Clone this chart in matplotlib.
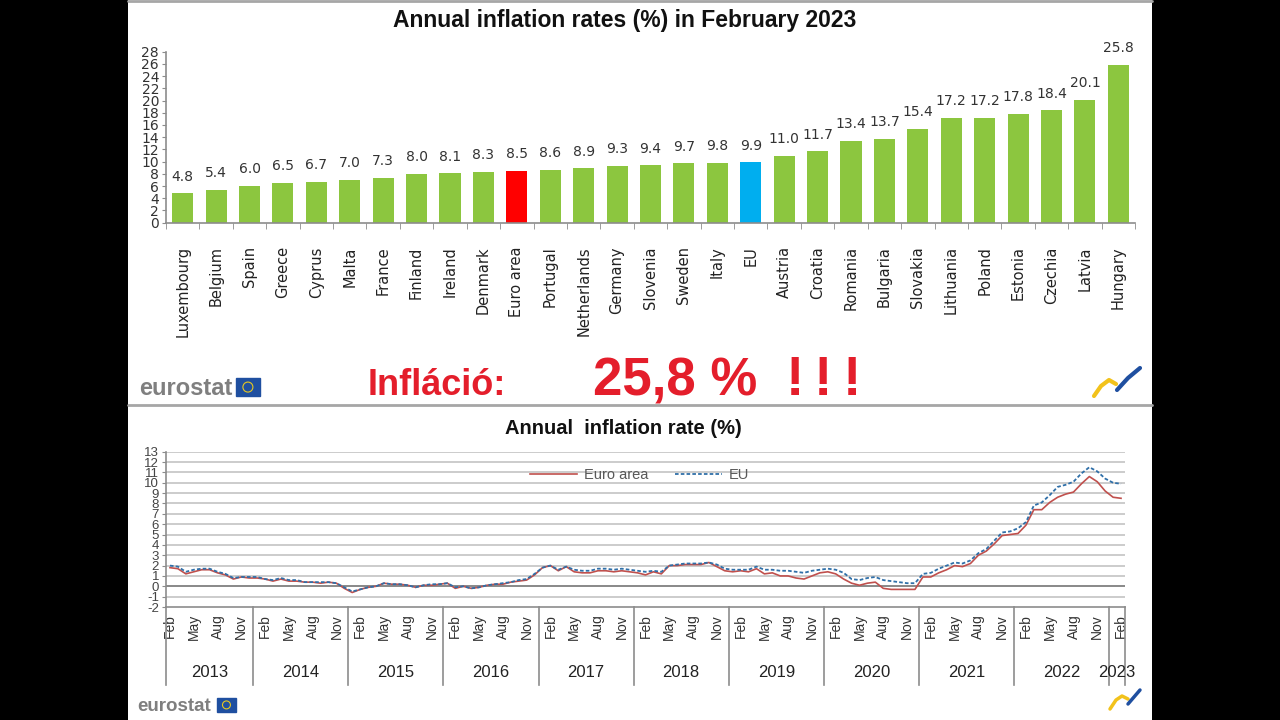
import matplotlib
matplotlib.use("Agg")
import matplotlib.pyplot as plt
import matplotlib.transforms as mtransforms
from matplotlib import font_manager
from matplotlib.lines import Line2D
from matplotlib.patches import Rectangle, Ellipse

names = {f.name for f in font_manager.fontManager.ttflist}
HAS_NARROW = "Liberation Sans Narrow" in names
NARROW = "Liberation Sans Narrow" if HAS_NARROW else "Liberation Sans"
SANS = "Liberation Sans"

# Bar chart: annual inflation rates, February 2023
countries = ["Luxembourg", "Belgium", "Spain", "Greece", "Cyprus", "Malta", "France",
             "Finland", "Ireland", "Denmark", "Euro area", "Portugal", "Netherlands",
             "Germany", "Slovenia", "Sweden", "Italy", "EU", "Austria", "Croatia",
             "Romania", "Bulgaria", "Slovakia", "Lithuania", "Poland", "Estonia",
             "Czechia", "Latvia", "Hungary"]
rates = [4.8, 5.4, 6.0, 6.5, 6.7, 7.0, 7.3, 8.0, 8.1, 8.3, 8.5, 8.6, 8.9, 9.3, 9.4,
         9.7, 9.8, 9.9, 11.0, 11.7, 13.4, 13.7, 15.4, 17.2, 17.2, 17.8, 18.4, 20.1, 25.8]

# Line chart: monthly annual rates, Feb 2013 .. Feb 2023
euro_area = [
    1.8, 1.7, 1.2, 1.4, 1.6, 1.6, 1.3, 1.1, 0.7, 0.9, 0.8,                # 2013
    0.8, 0.7, 0.5, 0.7, 0.5, 0.5, 0.4, 0.4, 0.3, 0.4, 0.3, -0.2,          # 2014
    -0.6, -0.3, -0.1, 0.0, 0.3, 0.2, 0.2, 0.1, -0.1, 0.1, 0.1, 0.2,       # 2015
    0.3, -0.2, 0.0, -0.2, -0.1, 0.1, 0.2, 0.2, 0.4, 0.5, 0.6, 1.1,        # 2016
    1.8, 2.0, 1.5, 1.9, 1.4, 1.3, 1.3, 1.5, 1.5, 1.4, 1.5, 1.4,           # 2017
    1.3, 1.1, 1.4, 1.2, 2.0, 2.0, 2.1, 2.1, 2.1, 2.3, 1.9, 1.5,           # 2018
    1.4, 1.5, 1.4, 1.7, 1.2, 1.3, 1.0, 1.0, 0.8, 0.7, 1.0, 1.3,           # 2019
    1.4, 1.2, 0.7, 0.3, 0.1, 0.3, 0.4, -0.2, -0.3, -0.3, -0.3, -0.3,      # 2020
    0.9, 0.9, 1.3, 1.6, 2.0, 1.9, 2.2, 3.0, 3.4, 4.1, 4.9, 5.0,           # 2021
    5.1, 5.9, 7.4, 7.4, 8.1, 8.6, 8.9, 9.1, 9.9, 10.6, 10.1, 9.2,         # 2022
    8.6, 8.5,                                                             # 2023
]
eu = [
    2.0, 1.9, 1.4, 1.6, 1.7, 1.7, 1.4, 1.2, 0.8, 0.9, 0.9,
    0.9, 0.7, 0.6, 0.8, 0.6, 0.6, 0.4, 0.4, 0.4, 0.4, 0.3, -0.1,
    -0.5, -0.3, -0.1, 0.0, 0.3, 0.2, 0.2, 0.1, -0.1, 0.1, 0.2, 0.2,
    0.3, -0.1, 0.0, -0.2, -0.1, 0.1, 0.2, 0.3, 0.4, 0.6, 0.7, 1.2,
    1.8, 2.0, 1.6, 1.9, 1.6, 1.5, 1.5, 1.7, 1.7, 1.6, 1.7, 1.6,
    1.5, 1.4, 1.5, 1.4, 2.0, 2.1, 2.2, 2.2, 2.2, 2.3, 2.1, 1.7,
    1.6, 1.6, 1.6, 1.9, 1.6, 1.6, 1.5, 1.5, 1.4, 1.3, 1.5, 1.6,
    1.7, 1.6, 1.3, 0.7, 0.6, 0.8, 0.9, 0.6, 0.5, 0.4, 0.3, 0.3,
    1.2, 1.3, 1.7, 2.0, 2.3, 2.2, 2.5, 3.2, 3.6, 4.4, 5.2, 5.3,
    5.6, 6.2, 7.8, 8.1, 8.8, 9.6, 9.8, 10.1, 10.9, 11.5, 11.1, 10.4,
    10.0, 9.9,
]
first_year = 2013
month_names = ["Jan", "Feb", "Mar", "Apr", "May", "Jun",
               "Jul", "Aug", "Sep", "Oct", "Nov", "Dec"]

GREEN = "#8CC63F"
RED = "#FF0000"
BLUE = "#00AEEF"
AXIS = "#8C8C8C"
ALERT = "#E41E2B"


def fx(x):
    return x / 1280


def fy(y):
    return 1 - y / 720


def fig_line(fig, pts, color, lw):
    fig.add_artist(Line2D([fx(p[0]) for p in pts], [fy(p[1]) for p in pts],
                          color=color, lw=lw, solid_capstyle="round"))


def eurostat_logo(fig, x, y, size, flag_x):
    fig.text(fx(x), fy(y), "eurostat", color="#7F7F7F", fontsize=size,
             weight="bold", family=SANS, va="baseline")
    w = size * 1.4
    fig.patches.append(Rectangle((fx(flag_x), fy(y + 1)), fx(w), w * 0.75 / 720,
                                 transform=fig.transFigure, color="#1F4FA0"))
    r = w * 0.42
    fig.patches.append(Ellipse((fx(flag_x + w / 2), fy(y + 1 - w * 0.375)), fx(r),
                               r / 720, transform=fig.transFigure, fill=False,
                               edgecolor="#E8C820", lw=0.8))


fig = plt.figure(figsize=(12.8, 7.2), dpi=100, facecolor="black")
fig.patches.append(Rectangle((fx(128), 0), fx(1024), 1, transform=fig.transFigure,
                             facecolor="white", zorder=-1))
fig_line(fig, [(128, 1), (1152, 1)], "#A6A6A6", 2)
fig_line(fig, [(128, 405), (1152, 405)], "#A6A6A6", 2)

# ---- top: bar chart ----
ax1 = fig.add_axes([fx(166), fy(222.7), fx(1135 - 166), (222.7 - 51.7) / 720])
bar_colors = [RED if c == "Euro area" else BLUE if c == "EU" else GREEN for c in countries]
xs = range(len(countries))
ax1.bar(xs, rates, width=0.63, color=bar_colors)
for i, v in enumerate(rates):
    ax1.annotate(f"{v:.1f}", (i, v), xytext=(0, 7), textcoords="offset points",
                 ha="center", va="bottom", fontsize=10, color="#333333",
                 family="DejaVu Sans")
ax1.set_xlim(-0.5, len(countries) - 0.5)
ax1.set_ylim(0, 28)
ax1.set_yticks(range(0, 29, 2))
ax1.set_xticks(list(xs))
ax1.set_xticklabels(countries, rotation=90, fontsize=10.5, color="#222222",
                    family="DejaVu Sans")
ax1.set_xticks([i - 0.5 for i in range(len(countries) + 1)], minor=True)
ax1.tick_params(axis="x", which="major", length=0, pad=17)
ax1.tick_params(axis="x", which="minor", length=4, color=AXIS)
ax1.tick_params(axis="y", length=3, color=AXIS, labelsize=10, pad=2,
                labelcolor="#333333")
for s in ("top", "right"):
    ax1.spines[s].set_visible(False)
for s in ("left", "bottom"):
    ax1.spines[s].set_color(AXIS)
    ax1.spines[s].set_linewidth(1.2)

fig.text(fx(625), fy(20), "Annual inflation rates (%) in February 2023", ha="center",
         va="center", fontsize=16.5, weight="bold", family=SANS, color="#111111")

# red overlay text
top_rate = f"{max(rates):.1f}".replace(".", ",")
fig.text(fx(368), fy(395), "Infláció:", color=ALERT, fontsize=30 if HAS_NARROW else 26,
         weight="bold", family=NARROW, va="baseline")
fig.text(fx(593), fy(395), f"{top_rate} %", color=ALERT, fontsize=38,
         weight="bold", family=SANS, va="baseline")
for px in (795, 823, 852):
    fig.text(fx(px), fy(395), "!", color=ALERT, fontsize=40, weight="bold",
             family=SANS, va="baseline", ha="center")

eurostat_logo(fig, 139, 395, 17, 236)
fig_line(fig, [(1094, 396), (1101, 386), (1109, 380), (1116, 384)], "#F2C21B", 3)
fig_line(fig, [(1117, 390), (1128, 378), (1140, 368)], "#1F4FA0", 3)

# ---- bottom: line chart ----
n = len(euro_area)
ax2 = fig.add_axes([fx(166), fy(607), fx(1125 - 166), (607 - 451.7) / 720])
for v in range(-1, 14):
    ax2.axhline(v, color="#7F7F7F" if v == 0 else "#C8C8C8", lw=1.3, zorder=0)
ax2.plot(range(n), euro_area, color="#C0504D", lw=1.2, label="Euro area")
ax2.plot(range(n), eu, color="#2F6FA8", lw=1.3, ls=(0, (2, 1.2)), label="EU")
ax2.set_xlim(-0.5, n - 0.5)
ax2.set_ylim(-2, 13)
ax2.set_yticks(range(-2, 14))
ax2.set_yticklabels([str(v) for v in range(-2, 14)], fontsize=9.5, family=NARROW,
                    color="#444444")
tick_idx = [i for i in range(n) if i % 3 == 0]
ax2.set_xticks(tick_idx)
ax2.set_xticklabels([month_names[(i + 1) % 12] for i in tick_idx], rotation=90,
                    fontsize=10, family=NARROW, color="#333333")
ax2.tick_params(axis="x", length=0, pad=5)
ax2.tick_params(axis="y", length=3, color=AXIS, pad=2)
for s in ("top", "right"):
    ax2.spines[s].set_visible(False)
for s in ("left", "bottom"):
    ax2.spines[s].set_color(AXIS)
    ax2.spines[s].set_linewidth(1.2)

trans = mtransforms.blended_transform_factory(ax2.transData, ax2.transAxes)
year_of = [first_year + (i + 1) // 12 for i in range(n)]
years = sorted(set(year_of))
edges = [-0.5]
for yr in years:
    last = max(i for i in range(n) if year_of[i] == yr)
    edges.append(last + 0.5)
for k, yr in enumerate(years):
    ax2.text((edges[k] + edges[k + 1]) / 2, -0.42, str(yr), transform=trans,
             ha="center", va="center", fontsize=12, family=NARROW, color="#222222")
for e in edges:
    ax2.plot([e, e], [0, -0.5], transform=trans, color=AXIS, lw=1.2, clip_on=False)

ax2.legend(loc="center", bbox_to_anchor=(0.494, 0.85), ncol=2, frameon=False,
           handlelength=3.2, columnspacing=1.8, handletextpad=0.5,
           labelcolor="#595959", prop={"family": SANS, "size": 10.5})

fig.text(fx(623), fy(428), "Annual  inflation rate (%)", ha="center", va="center",
         fontsize=14.5, weight="bold", family=NARROW, color="#111111")

eurostat_logo(fig, 137, 711, 13.5, 217)
fig_line(fig, [(1110, 709), (1116, 700), (1122, 696), (1128, 699)], "#F2C21B", 2.5)
fig_line(fig, [(1128, 704), (1134, 697), (1140, 690)], "#1F4FA0", 2.5)

fig.savefig("out.png", dpi=100, facecolor="black")
